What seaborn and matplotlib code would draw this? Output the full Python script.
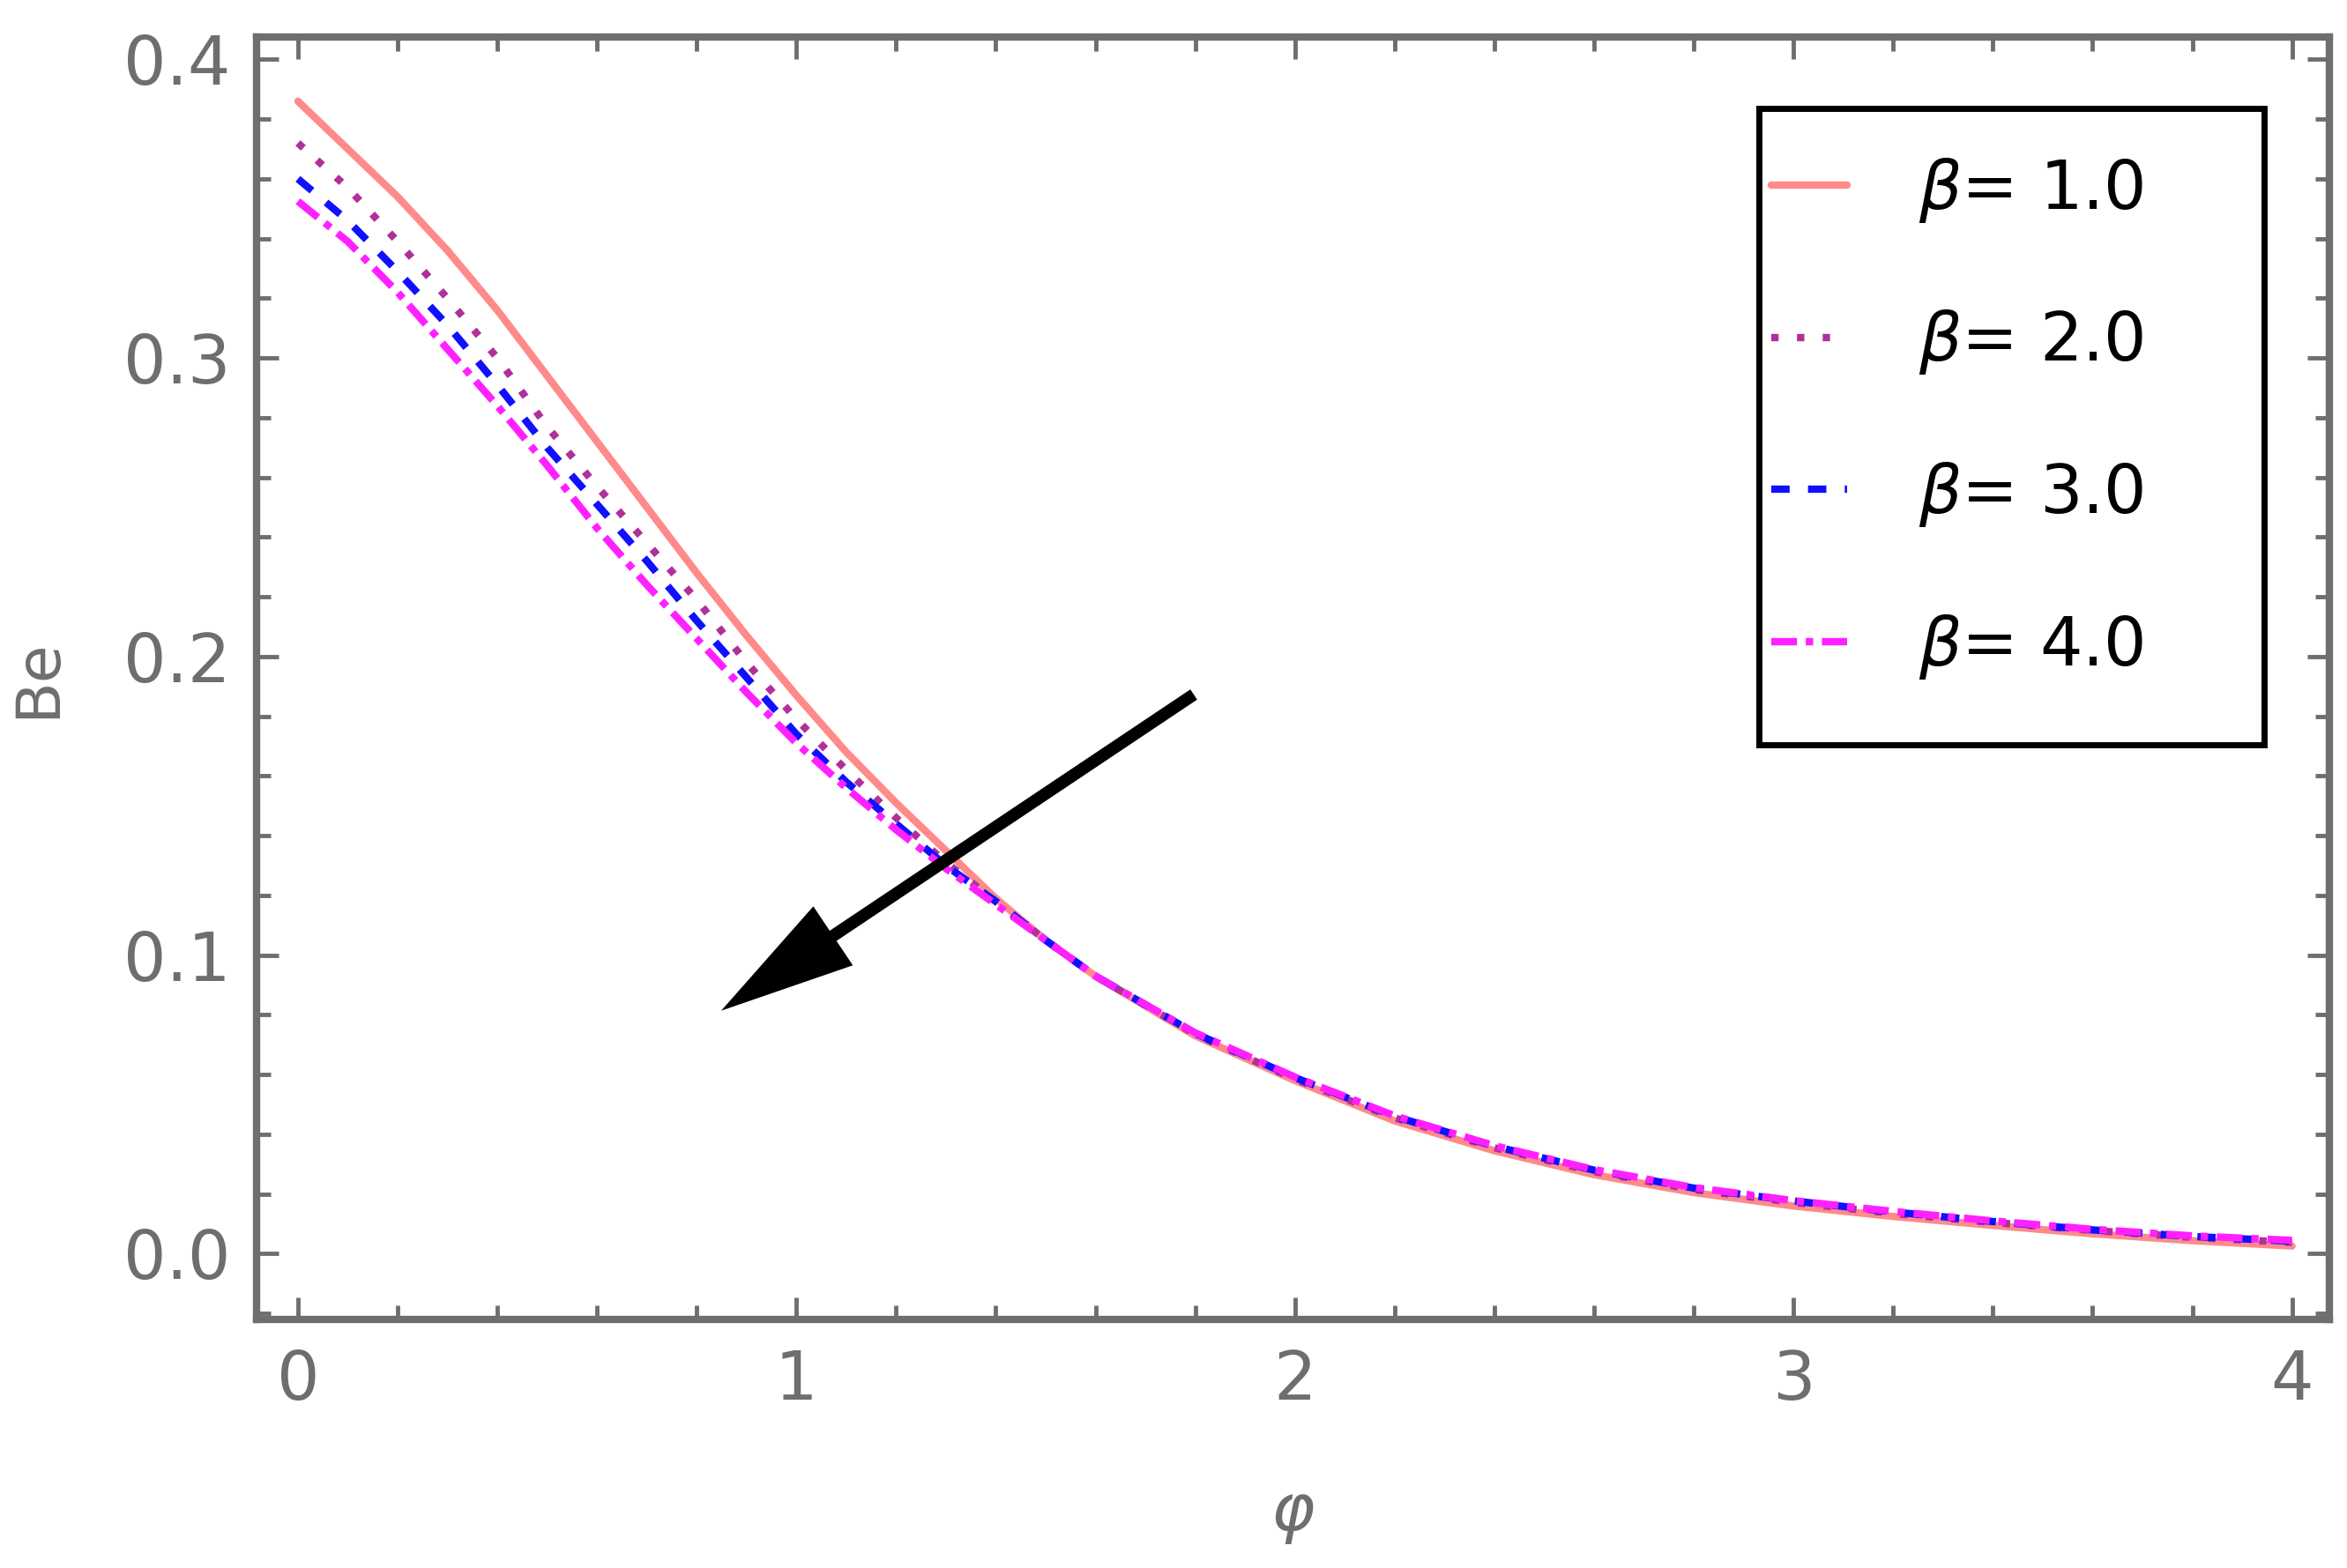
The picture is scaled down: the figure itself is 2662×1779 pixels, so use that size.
import numpy as np
import pandas as pd
import matplotlib
matplotlib.use("Agg")
import matplotlib.pyplot as plt
import seaborn as sns
from matplotlib.patches import Rectangle
from matplotlib.ticker import MultipleLocator, FormatStrFormatter

# values
phi = [0.0, 0.1, 0.2, 0.3, 0.4, 0.5, 0.6, 0.7, 0.8, 0.9, 1.0, 1.1, 1.2, 1.3, 1.4, 1.5, 1.6,
       1.8, 2.0, 2.2, 2.4, 2.6, 2.8, 3.0, 3.2, 3.4, 3.6, 3.8, 4.0]
be_b1 = [0.386, 0.370, 0.354, 0.336, 0.316, 0.294, 0.272, 0.250, 0.228, 0.207, 0.187,
         0.168, 0.151, 0.135, 0.119, 0.105, 0.093,
         0.073, 0.058, 0.0445, 0.0345, 0.0265, 0.0205, 0.016, 0.0125, 0.0095, 0.0067, 0.0044, 0.0026]
be_b2 = [0.372, 0.357, 0.339, 0.320, 0.300, 0.277, 0.257, 0.238, 0.219, 0.198, 0.179,
         0.162, 0.146, 0.131, 0.118, 0.105, 0.093,
         0.0735, 0.0585, 0.0455, 0.0355, 0.0275, 0.0215, 0.0172, 0.0135, 0.0105, 0.0078, 0.0055, 0.0038]
be_b3 = [0.360, 0.346, 0.329, 0.311, 0.291, 0.270, 0.251, 0.232, 0.212, 0.193, 0.174,
         0.158, 0.144, 0.130, 0.118, 0.105, 0.093,
         0.0738, 0.059, 0.046, 0.036, 0.028, 0.022, 0.0177, 0.014, 0.0108, 0.008, 0.0058, 0.0042]
be_b4 = [0.3525, 0.339, 0.322, 0.303, 0.284, 0.264, 0.243, 0.224, 0.206, 0.188, 0.171,
         0.156, 0.142, 0.129, 0.117, 0.105, 0.093,
         0.074, 0.0592, 0.0462, 0.0362, 0.0282, 0.0222, 0.0178, 0.0142, 0.011, 0.0082, 0.006, 0.0045]
labels = [r'$\beta$= 1.0', r'$\beta$= 2.0', r'$\beta$= 3.0', r'$\beta$= 4.0']
colors = ['#ff8a8a', '#b0309a', '#1010ff', '#ff20ff']
styles = ['-', (0, (1, 2.5)), (0, (2.5, 2.5)), (0, (3.5, 1.2, 1, 1.2))]

sns.set_style('ticks')
plt.rcParams['font.family'] = ['DejaVu Sans']
gray = '#6e6e6e'

fig = plt.figure(figsize=(26.62, 17.79), dpi=100)
ax = fig.add_axes([0.1093, 0.1585, 0.9925 - 0.1093, 0.9764 - 0.1585])

for vals, lab, col, ls in zip([be_b1, be_b2, be_b3, be_b4], labels, colors, styles):
    sns.lineplot(x=phi, y=vals, ax=ax, color=col, linestyle=ls, linewidth=6, label=lab)

ax.set_xlim(-0.083, 4.075)
ax.set_ylim(-0.022, 0.4075)

ax.xaxis.set_major_locator(MultipleLocator(1))
ax.xaxis.set_minor_locator(MultipleLocator(0.2))
ax.yaxis.set_major_locator(MultipleLocator(0.1))
ax.yaxis.set_minor_locator(MultipleLocator(0.02))
ax.xaxis.set_major_formatter(FormatStrFormatter('%d'))
ax.yaxis.set_major_formatter(FormatStrFormatter('%.1f'))

ax.tick_params(which='both', direction='in', top=True, right=True, color=gray,
               labelcolor=gray, labelsize=55)
ax.tick_params(which='major', length=18, width=3.5)
ax.tick_params(which='minor', length=11.5, width=3.5)
ax.tick_params(axis='y', which='major', pad=21)
ax.tick_params(axis='x', which='major', pad=24)

for sp in ax.spines.values():
    sp.set_color(gray)
    sp.set_linewidth(6)

ax.set_xlabel(r'$\varphi$', fontsize=54, color=gray, labelpad=55)
ax.set_ylabel('Be', fontsize=50, color=gray, labelpad=46)

# legend without frame, plus square black box
handles, labs = ax.get_legend_handles_labels()
leg = ax.legend(handles, labs, loc='upper left', bbox_to_anchor=(0.7308, 0.9074),
                frameon=False, fontsize=55, handlelength=1.13, handletextpad=1.06,
                labelspacing=1.24, borderpad=0, borderaxespad=0)
for t in leg.get_texts():
    t.set_color('black')
ax.add_patch(Rectangle((0.7248, 0.4481), 0.9685 - 0.7248, 0.9443 - 0.4481,
                       transform=ax.transAxes, fill=False, edgecolor='black',
                       linewidth=5, zorder=5))

# arrow showing increasing beta
ax.annotate('', xy=(0.849, 0.0814), xytext=(1.797, 0.1873),
            arrowprops=dict(arrowstyle='simple,head_length=1.1,head_width=0.58,tail_width=0.1',
                            mutation_scale=100, color='black', lw=0,
                            shrinkA=0, shrinkB=0))

fig.savefig('out.png', dpi=100)
